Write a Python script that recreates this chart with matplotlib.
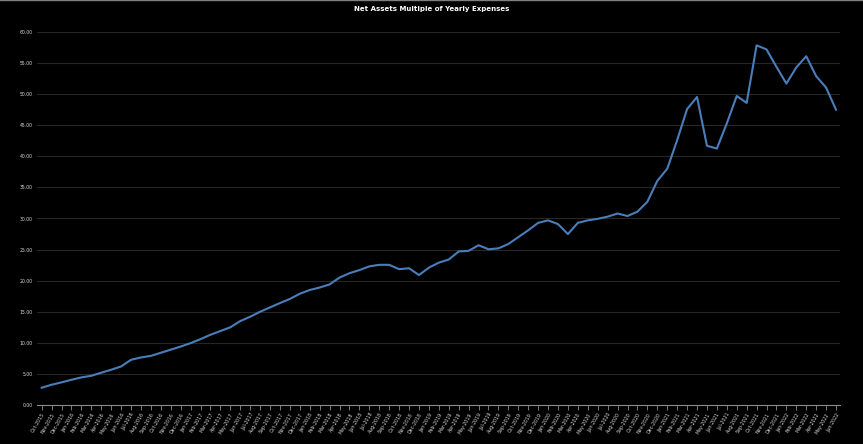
import numpy as np
import pandas as pd
import matplotlib
matplotlib.use("Agg")
import matplotlib.pyplot as plt

# monthly, Oct-2015 .. Jun-2022
months = pd.date_range("2015-10-01", "2022-06-01", freq="MS")
labels = [d.strftime("%b-%Y") for d in months]

multiple = [
    2.78, 3.26, 3.64, 4.06, 4.44, 4.70, 5.19, 5.67, 6.20, 7.27,
    7.65, 7.90, 8.40, 8.90, 9.40, 9.95, 10.60, 11.30, 11.90, 12.50,
    13.50, 14.20, 15.00, 15.70, 16.40, 17.06, 17.90,
    18.50, 18.90, 19.40, 20.50, 21.20, 21.70, 22.30, 22.55, 22.55,
    21.85, 22.00, 20.90, 22.10, 22.90, 23.40, 24.70, 24.80, 25.70,
    25.05, 25.20, 25.90, 27.00, 28.10,
    29.30, 29.70, 29.10, 27.50, 29.30, 29.70, 29.95, 30.30, 30.80,
    30.40, 31.10, 32.70, 36.05, 38.00, 42.60, 47.60, 49.55, 41.70,
    41.25, 45.30, 49.70, 48.60, 57.85, 57.20, 54.40, 51.70, 54.30,
    56.10, 52.90, 51.05, 47.50,
]

fig = plt.figure(figsize=(8.63, 4.44), dpi=100, facecolor="black")
ax = fig.add_axes([37 / 863, 39 / 444, 803 / 863, 373 / 444], facecolor="black")

x = np.arange(len(multiple))
ax.plot(x, multiple, color="#4a7ebb", linewidth=1.5, solid_joinstyle="round")

ax.set_xlim(-0.47, len(multiple) - 1 + 0.4)
ax.set_ylim(0, 60)
ax.set_yticks(np.arange(0, 61, 5))
ax.set_yticklabels([f"{v:.2f}" for v in np.arange(0, 61, 5)])
ax.grid(axis="y", color="#262626", linewidth=0.8)
ax.set_axisbelow(True)

ax.set_xticks(x)
ax.set_xticklabels(labels, rotation=60, ha="right", rotation_mode="anchor")

for s in ["top", "right", "left"]:
    ax.spines[s].set_visible(False)
ax.spines["bottom"].set_color("#8c8c8c")
ax.spines["bottom"].set_linewidth(0.8)

ax.tick_params(axis="y", length=0, pad=3, labelsize=3.3, labelcolor="#d9d9d9")
ax.tick_params(axis="x", length=3.5, width=0.6, color="#8c8c8c", pad=1.5,
               labelsize=3.4, labelcolor="#d9d9d9")

fig.text(0.5, 1 - 9 / 444, "Net Assets Multiple of Yearly Expenses", color="white",
         fontsize=5.0, fontweight="bold", ha="center", va="center")

# thin frame line along the top
fig.add_artist(plt.Line2D([0, 1], [0.999, 0.999], color="#7f7f7f", linewidth=1.0,
                          transform=fig.transFigure))

fig.savefig("out.png", dpi=100, facecolor="black")
